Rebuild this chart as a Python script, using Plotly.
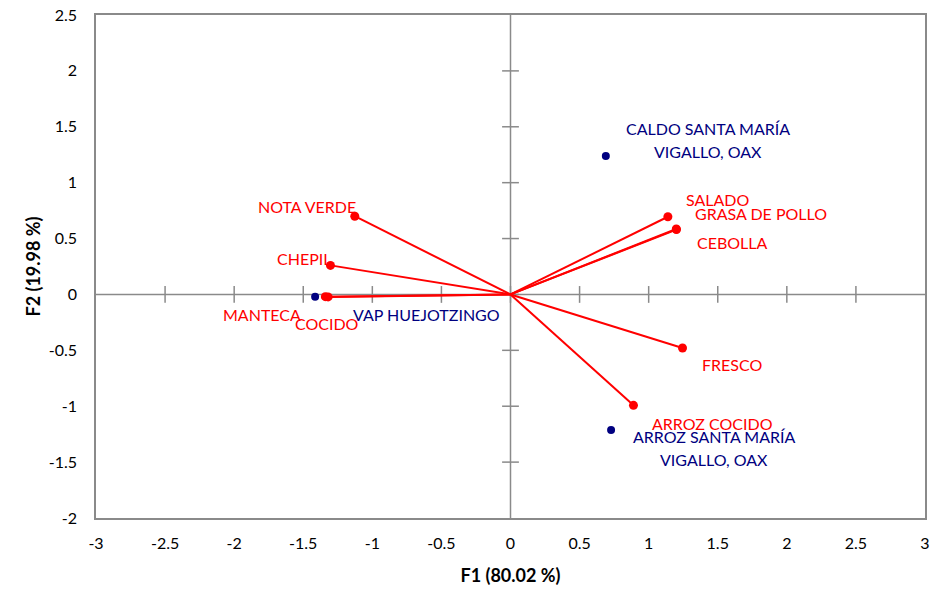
import plotly.graph_objects as go

# Variable loadings (red vectors) on F1 / F2
var_names = ["NOTA VERDE", "CHEPIL", "MANTECA", "COCIDO", "SALADO",
             "GRASA DE POLLO", "CEBOLLA", "FRESCO", "ARROZ COCIDO"]
var_f1 = [-1.127, -1.303, -1.34, -1.32, 1.139, 1.20, 1.201, 1.245, 0.89]
var_f2 = [0.70, 0.26, -0.02, -0.022, 0.695, 0.585, 0.58, -0.479, -0.992]

# Observations (navy points)
obs_names = ["VAP HUEJOTZINGO", "CALDO SANTA MARÍA<br>VIGALLO, OAX",
             "ARROZ SANTA MARÍA<br>VIGALLO, OAX"]
obs_f1 = [-1.414, 0.69, 0.728]
obs_f2 = [-0.02, 1.238, -1.213]

x_ticks = [-3, -2.5, -2, -1.5, -1, -0.5, 0, 0.5, 1, 1.5, 2, 2.5, 3]
y_ticks = [-2, -1.5, -1, -0.5, 0, 0.5, 1, 1.5, 2, 2.5]

# label placement, in pixels relative to each point
var_label_shift = {
    "NOTA VERDE": (-48, 10), "CHEPIL": (-26, 7), "MANTECA": (-63, -18),
    "COCIDO": (-1, -27), "SALADO": (50, 17), "GRASA DE POLLO": (85, 16),
    "CEBOLLA": (56, -13), "FRESCO": (49, -17), "ARROZ COCIDO": (79, -18),
}
obs_label_shift = [(111, -18), (102, 16), (103, -18)]

RED = "#FF0000"
NAVY = "#000080"
GRAY = "#8A8A8A"
FONT = "Lato"

fig = go.Figure()

# tick marks crossing the zero axes
fig.add_trace(go.Scatter(
    x=[v for v in x_ticks if abs(v) < 3], y=[0] * 11, mode="markers",
    marker=dict(symbol="line-ns", size=12, line=dict(color=GRAY, width=1.5)),
    hoverinfo="skip", showlegend=False))
fig.add_trace(go.Scatter(
    x=[0] * 8, y=[v for v in y_ticks if -2 < v < 2.5], mode="markers",
    marker=dict(symbol="line-ew", size=12, line=dict(color=GRAY, width=1.5)),
    hoverinfo="skip", showlegend=False))

# vectors from the origin
lx, ly = [], []
for a, b in zip(var_f1, var_f2):
    lx += [0, a, None]
    ly += [0, b, None]
fig.add_trace(go.Scatter(x=lx, y=ly, mode="lines",
                         line=dict(color=RED, width=2),
                         hoverinfo="skip", showlegend=False))
fig.add_trace(go.Scatter(x=var_f1, y=var_f2, mode="markers",
                         marker=dict(color=RED, size=9),
                         text=var_names, showlegend=False))
fig.add_trace(go.Scatter(x=obs_f1, y=obs_f2, mode="markers",
                         marker=dict(color=NAVY, size=8),
                         text=obs_names, showlegend=False))

for name, a, b in zip(var_names, var_f1, var_f2):
    dx, dy = var_label_shift[name]
    fig.add_annotation(x=a, y=b, text=name, showarrow=False,
                       xshift=dx, yshift=dy,
                       font=dict(family=FONT, size=16, color=RED))

for name, a, b, (dx, dy) in zip(obs_names, obs_f1, obs_f2, obs_label_shift):
    lines = name.split("<br>")
    n = len(lines)
    for i, t in enumerate(lines):
        off = (n - 1) / 2 * 23 - i * 23
        fig.add_annotation(x=a, y=b, text=t, showarrow=False,
                           xshift=dx, yshift=dy + off,
                           font=dict(family=FONT, size=16, color=NAVY))

# zero axes
fig.add_shape(type="line", x0=-3, x1=3, y0=0, y1=0, xref="x", yref="y",
              line=dict(color=GRAY, width=1.5), layer="below")
fig.add_shape(type="line", x0=0, x1=0, y0=-2, y1=2.5, xref="x", yref="y",
              line=dict(color=GRAY, width=1.5), layer="below")

axis_common = dict(showgrid=False, zeroline=False, showline=True, mirror=True,
                   linecolor=GRAY, linewidth=1.5, ticks="", automargin=False,
                   tickfont=dict(family=FONT, size=16, color="#000000"))

fig.update_xaxes(range=[-3, 3], tickvals=x_ticks,
                 ticktext=[f"{v:g}" for v in x_ticks],
                 ticklabelstandoff=10,
                 title=dict(text="<b>F1 (80.02 %)</b>", standoff=18,
                            font=dict(family=FONT, size=18, color="#000000")),
                 **axis_common)
fig.update_yaxes(range=[-2, 2.5], tickvals=y_ticks,
                 ticktext=[f"{v:g}" for v in y_ticks],
                 ticklabelstandoff=14,
                 title=dict(text="<b>F2 (19.98 %)</b>", standoff=3,
                            font=dict(family=FONT, size=18, color="#000000")),
                 **axis_common)

fig.update_layout(width=945, height=589,
                  margin=dict(l=96, r=20, t=15, b=71),
                  plot_bgcolor="white", paper_bgcolor="white",
                  showlegend=False)

fig.write_html("out.html")
